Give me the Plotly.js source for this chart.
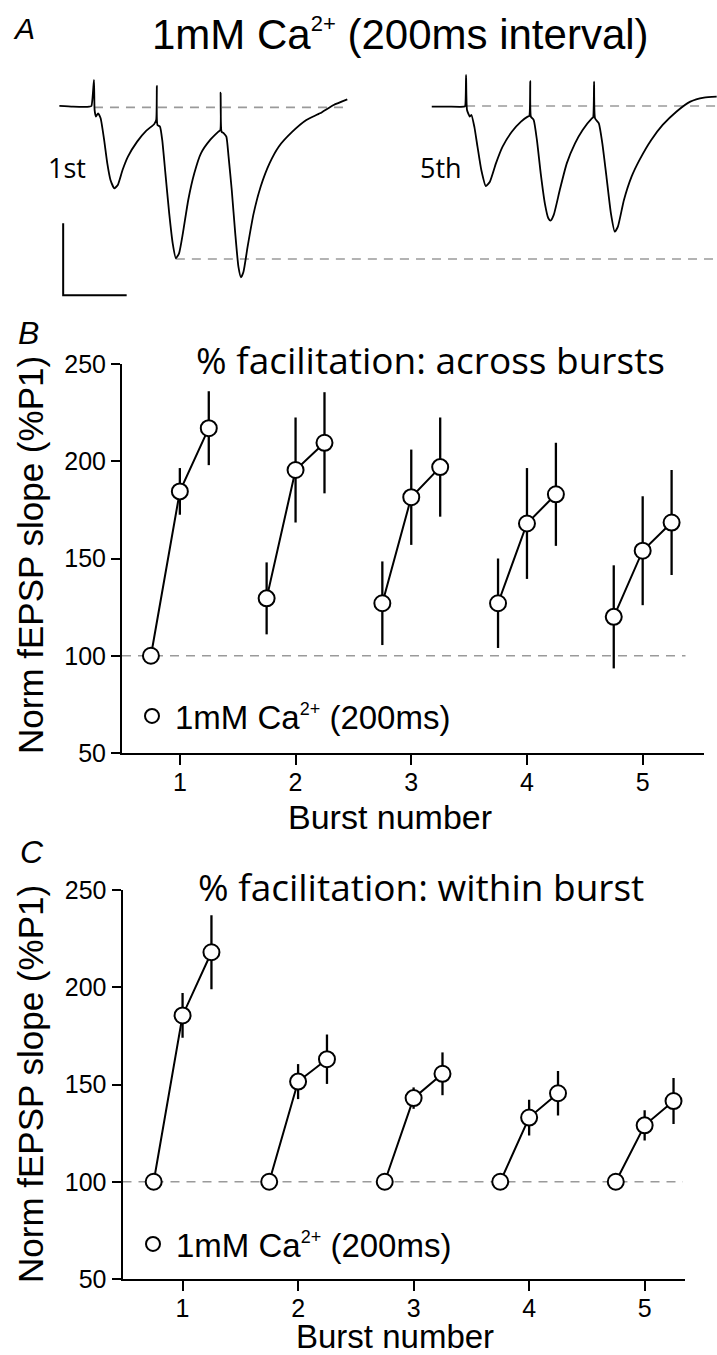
<!DOCTYPE html>
<html><head><meta charset="utf-8">
<script src="https://cdn.plot.ly/plotly-3.0.1.min.js"></script>
<style>html,body{margin:0;padding:0;background:#fff}</style>
</head><body><div id="chart" style="width:717px;height:1355px"></div>
<script>
// ---- Panel A: example fEPSP traces (time in ms from first stimulus, amplitude in mV) ----
const trace1stTime = [-109,-66,-15,-8,0,2,6,13,21,32,42,52,64,75,90,107,136,165,190,196,198,200,208,215,225,237,248,258,268,280,297,316,337,366,392,398,399,402,409,417,424,434,445,455,463,471,484,503,525,553,582,625,669,712,755,798];
const trace1stAmp = [0.005,0,0,0.005,0.185,-0.023,-0.069,-0.046,-0.081,-0.231,-0.394,-0.509,-0.567,-0.544,-0.44,-0.347,-0.243,-0.167,-0.12,-0.093,0.144,-0.127,-0.139,-0.231,-0.463,-0.741,-0.949,-1.053,-1.019,-0.88,-0.648,-0.463,-0.324,-0.231,-0.174,-0.162,0.097,-0.174,-0.185,-0.208,-0.347,-0.579,-0.88,-1.111,-1.185,-1.146,-0.972,-0.741,-0.556,-0.394,-0.278,-0.174,-0.093,-0.046,0.012,0.051];
const trace5thTime = [-108,-58,-7,-3,0,3,12,17,26,36,48,62,75,94,115,144,173,194,199,202,204,213,223,235,248,259,266,276,295,317,343,367,396,400,403,406,418,429,442,456,468,478,497,521,547,583,619,662,706,749,789];
const trace5thAmp = [0,0,0,0.005,0.22,-0.023,-0.069,-0.058,-0.139,-0.278,-0.44,-0.551,-0.521,-0.394,-0.278,-0.174,-0.104,-0.069,-0.065,0.178,-0.069,-0.093,-0.231,-0.463,-0.671,-0.775,-0.792,-0.752,-0.579,-0.394,-0.255,-0.162,-0.081,-0.074,0.174,-0.081,-0.116,-0.255,-0.486,-0.741,-0.868,-0.833,-0.648,-0.486,-0.366,-0.231,-0.127,-0.035,0.035,0.063,0.069];
const baseline1stMv = -0.005;
const baseline5thMv = 0.005;
const peak1stP2Mv = -1.058;
const peak1stP2Ms = 258;
const scaleBarStart = [-97, -1.31];
const scaleBarMs = 200;
const scaleBarMv = 0.5;

// ---- Panels B and C ----
const burstNumbers = [1, 2, 3, 4, 5];
const pulseOffsets = [-0.25, 0, 0.25];
const acrossMean = [[100,184.5,217],[129.5,195.5,209.5],[127,181.5,197],[127,168,183],[120,154,168.5]];
const acrossSem  = [[0,12,19],[18.5,27,26],[21.5,24.5,25.5],[23,28.5,26.5],[26.5,28,27]];
const withinMean = [[100,185.5,218],[100,151.5,163],[100,143,155.5],[100,133,145.5],[100,129,141.5]];
const withinSem  = [[0,11.5,19],[0,9,12.7],[0,5.5,11],[0,9.2,11.4],[0,7.8,11.8]];
const yTicks = [50, 100, 150, 200, 250];
const normLevel = 100;
const legendLabel = '1mM Ca<sup><span style="font-size:18px">2+</span></sup> (200ms)';

const ARIAL = 'Liberation Sans, Arial, sans-serif';
const MYRIAD = 'Open Sans, Noto Sans, sans-serif';
const dashGray = {color: '#9a9a9a', width: 1.6, dash: '9px,7px'};

const data = [];
// Panel A traces
data.push({x: trace1stTime, y: trace1stAmp, xaxis: 'x3', yaxis: 'y3', mode: 'lines',
  line: {color: 'black', width: 1.8, shape: 'spline', smoothing: 0.5}, showlegend: false, hoverinfo: 'skip'});
data.push({x: trace5thTime, y: trace5thAmp, xaxis: 'x4', yaxis: 'y3', mode: 'lines',
  line: {color: 'black', width: 1.8, shape: 'spline', smoothing: 0.5}, showlegend: false, hoverinfo: 'skip'});
data.push({x: [scaleBarStart[0], scaleBarStart[0], scaleBarStart[0] + scaleBarMs],
  y: [scaleBarStart[1] + scaleBarMv, scaleBarStart[1], scaleBarStart[1]],
  xaxis: 'x3', yaxis: 'y3', mode: 'lines', line: {color: 'black', width: 2}, showlegend: false});

const markerStyle = {symbol: 'circle', size: 16, color: 'white', line: {color: 'black', width: 2}};
function addPanel(means, sems, xa, ya, legendId) {
  burstNumbers.forEach((b, i) => {
    data.push({
      x: pulseOffsets.map(o => b + o), y: means[i], xaxis: xa, yaxis: ya,
      mode: 'lines+markers', line: {color: 'black', width: 2}, marker: markerStyle,
      error_y: {type: 'data', array: sems[i], visible: true, color: 'black', thickness: 2.3, width: 0},
      showlegend: false, cliponaxis: false, hoverinfo: 'skip'
    });
  });
  data.push({x: [null], y: [null], xaxis: xa, yaxis: ya, mode: 'markers',
    marker: {symbol: 'circle', size: 14, color: 'white', line: {color: 'black', width: 2}},
    name: legendLabel, showlegend: true, legend: legendId});
}
addPanel(acrossMean, acrossSem, 'x', 'y', 'legend');
addPanel(withinMean, withinSem, 'x2', 'y2', 'legend2');

const axY = (dom, anchor) => ({domain: dom, anchor: anchor, range: [50, 250], tickvals: yTicks,
  ticks: 'outside', ticklen: 9, tickwidth: 2, tickcolor: 'black', showline: true, linewidth: 2,
  linecolor: 'black', showgrid: false, zeroline: false, tickfont: {family: ARIAL, size: 25, color: 'black'}});
const axX = (dom, anchor, rng) => ({domain: dom, anchor: anchor, range: rng, tickvals: burstNumbers,
  ticks: 'outside', ticklen: 10, tickwidth: 2, tickcolor: 'black', showline: true, linewidth: 2,
  linecolor: 'black', showgrid: false, zeroline: false, ticklabelstandoff: -4,
  tickfont: {family: ARIAL, size: 25, color: 'black'}});
const hidden = (dom, rng, anchor) => ({domain: dom, range: rng, anchor: anchor, visible: false, fixedrange: true});

const P = px => px / 717;
const Q = py => 1 - py / 1355;
function ann(text, x, y, size, family, opts) {
  return Object.assign({text: text, x: P(x), y: Q(y), xref: 'paper', yref: 'paper', showarrow: false,
    xanchor: 'center', yanchor: 'middle', font: {family: family, size: size, color: 'black'}}, opts || {});
}

const layout = {
  width: 717, height: 1355, margin: {l: 0, r: 0, t: 0, b: 0},
  paper_bgcolor: 'white', plot_bgcolor: 'rgba(0,0,0,0)', showlegend: true,
  xaxis: axX([P(122), P(704)], 'y', [0.5, 5.53]),
  yaxis: axY([Q(753), Q(364)], 'x'),
  xaxis2: axX([P(122.5), P(684.5)], 'y2', [0.48, 5.345]),
  yaxis2: axY([Q(1279), Q(890)], 'x2'),
  xaxis3: hidden([0, P(400)], [-296, 964], 'y3'),
  xaxis4: hidden([P(400), 1], [-208, 790], 'y3'),
  yaxis3: hidden([Q(310), Q(60)], [-1.412, 0.324], 'x3'),
  legend: {x: P(129), y: Q(716), xanchor: 'left', yanchor: 'middle', bgcolor: 'rgba(0,0,0,0)',
    font: {family: ARIAL, size: 33, color: 'black'}, itemwidth: 36},
  legend2: {x: P(130), y: Q(1244), xanchor: 'left', yanchor: 'middle', bgcolor: 'rgba(0,0,0,0)',
    font: {family: ARIAL, size: 33, color: 'black'}, itemwidth: 36},
  shapes: [
    {type: 'line', xref: 'x', yref: 'y', x0: 0.5, x1: 5.37, y0: normLevel, y1: normLevel, line: dashGray, layer: 'below'},
    {type: 'line', xref: 'x2', yref: 'y2', x0: 0.48, x1: 5.33, y0: normLevel, y1: normLevel, line: dashGray, layer: 'below'},
    {type: 'line', xref: 'x3', yref: 'y3', x0: 0, x1: trace1stTime[trace1stTime.length - 1], y0: baseline1stMv, y1: baseline1stMv, line: dashGray, layer: 'below'},
    {type: 'line', xref: 'x4', yref: 'y3', x0: 0, x1: 790, y0: baseline5thMv, y1: baseline5thMv, line: dashGray, layer: 'below'},
    {type: 'line', xref: 'x3', yref: 'y3', x0: peak1stP2Ms, x1: 964, y0: peak1stP2Mv, y1: peak1stP2Mv, line: dashGray, layer: 'below'},
    {type: 'line', xref: 'x4', yref: 'y3', x0: -208, x1: 790, y0: peak1stP2Mv, y1: peak1stP2Mv, line: dashGray, layer: 'below'}
  ],
  annotations: [
    ann('A', 11, 28, 30, ARIAL, {xanchor: 'left', font: {family: ARIAL, size: 30, color: 'black', style: 'italic'}}),
    ann('1mM Ca<sup><span style="font-size:22px">2+</span></sup> (200ms interval)', 400, 35, 42, ARIAL),
    ann('1st', 46, 167, 27, MYRIAD, {xanchor: 'left'}),
    ann('5th', 418, 167, 27, MYRIAD, {xanchor: 'left'}),
    ann('B', 16, 333, 32, ARIAL, {xanchor: 'left', font: {family: ARIAL, size: 32, color: 'black', style: 'italic'}}),
    ann('% facilitation: across bursts', 430, 360, 37, MYRIAD),
    ann('Norm fEPSP slope (%P1)', 30, 555, 35, ARIAL, {textangle: -90}),
    ann('Burst number', 390, 817, 34, ARIAL),
    ann('C', 18, 852, 32, ARIAL, {xanchor: 'left', font: {family: ARIAL, size: 32, color: 'black', style: 'italic'}}),
    ann('% facilitation: within burst', 421, 886, 37, MYRIAD),
    ann('Norm fEPSP slope (%P1)', 30, 1084, 35, ARIAL, {textangle: -90}),
    ann('Burst number', 395, 1336, 33, ARIAL)
  ]
};

Plotly.newPlot('chart', data, layout, {staticPlot: true, displayModeBar: false});
</script></body></html>
